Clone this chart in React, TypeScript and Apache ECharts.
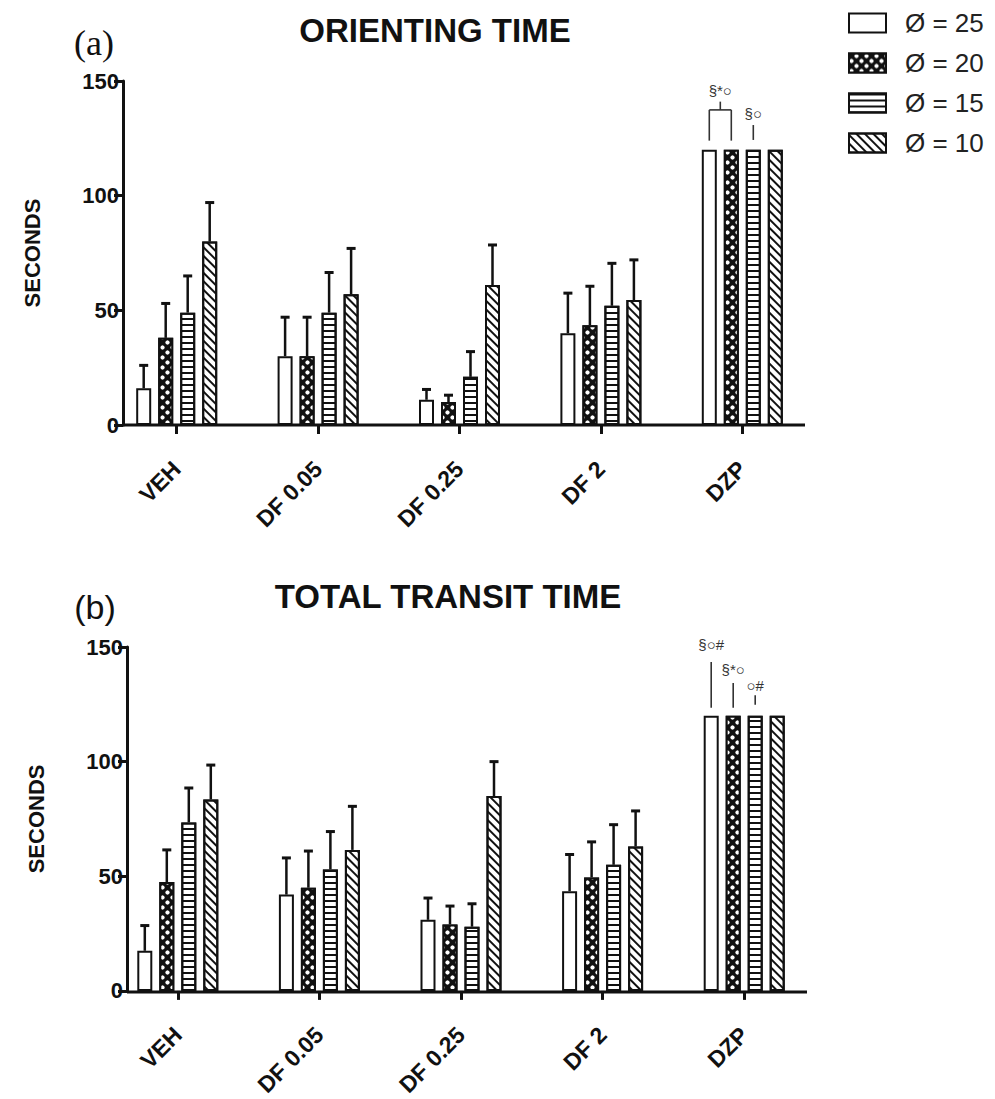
import React, { useEffect, useRef } from 'react';
import * as echarts from 'echarts';

// ---------- data ----------
const categories = ['VEH', 'DF 0.05', 'DF 0.25', 'DF 2', 'DZP'];
const seriesNames = ['Ø = 25', 'Ø = 20', 'Ø = 15', 'Ø = 10'];
const yTicks = [0, 50, 100, 150];

// (a) ORIENTING TIME  (mean, SEM) per diameter
const orientMean25 = [16, 30, 11, 40, 120];
const orientMean20 = [38, 30, 10, 43.5, 120];
const orientMean15 = [49, 49, 21, 52, 120];
const orientMean10 = [80, 57, 61, 54.5, 120];
const orientErr25 = [10, 17, 4.5, 17.5, 0];
const orientErr20 = [15, 17, 3, 17, 0];
const orientErr15 = [16, 17.5, 11, 18.5, 0];
const orientErr10 = [17, 20, 17.5, 17.5, 0];

// (b) TOTAL TRANSIT TIME
const transitMean25 = [17.5, 42, 31, 43.5, 120];
const transitMean20 = [47.5, 45, 29, 49.5, 120];
const transitMean15 = [73.5, 53, 28, 55, 120];
const transitMean10 = [83.5, 61.5, 85, 63, 120];
const transitErr25 = [11, 16, 9.5, 16, 0];
const transitErr20 = [14, 16, 8, 15.5, 0];
const transitErr15 = [15, 16.5, 10, 17.5, 0];
const transitErr10 = [15, 19, 15, 15.5, 0];

// significance annotations over DZP (values in seconds)
const annotCategory = 4;
const orientAnnots = [
  { text: '§*○', series: [0, 1], from: 124, to: 137.4, stem: 141, textAt: 146 },
  { text: '§○', series: [2], from: 124.3, to: 130.8, stem: 0, textAt: 136 },
];
const transitAnnots = [
  { text: '§○#', series: [0], from: 123.5, to: 143.5, stem: 0, textAt: 150.9 },
  { text: '§*○', series: [1], from: 123.5, to: 134.3, stem: 0, textAt: 140.4 },
  { text: '○#', series: [2], from: 124.8, to: 129, stem: 0, textAt: 133 },
];

// ---------- styling ----------
const FONT = 'Liberation Sans, Arial, Helvetica, sans-serif';
const INK = '#111';
const BAR_W = 15;
const PITCH = 22;

const decals: any[] = [
  null,
  {
    symbol: 'circle',
    symbolSize: 0.85,
    color: '#fff',
    dashArrayX: [[5, 5], [0, 5, 5, 0]],
    dashArrayY: [5, 0],
    rotation: 0,
  },
  {
    symbol: 'rect',
    symbolSize: 1,
    color: INK,
    dashArrayX: [1, 0],
    dashArrayY: [1.6, 4],
    rotation: 0,
  },
  {
    symbol: 'rect',
    symbolSize: 1,
    color: INK,
    dashArrayX: [1, 0],
    dashArrayY: [2, 3.2],
    rotation: Math.PI / 4,
  },
];
const fills = ['#fff', INK, '#fff', '#fff'];

function barSeries(means: number[][], gridIdx: number) {
  return means.map((m, k) => ({
    type: 'bar',
    name: seriesNames[k],
    xAxisIndex: gridIdx,
    yAxisIndex: gridIdx,
    data: m,
    barWidth: BAR_W,
    barGap: ((PITCH - BAR_W) / BAR_W) * 100 + '%',
    itemStyle: {
      color: fills[k],
      borderColor: INK,
      borderWidth: 2,
      ...(decals[k] ? { decal: decals[k] } : {}),
    },
    z: 2,
  }));
}

function errorSeries(means: number[][], errs: number[][], gridIdx: number) {
  const data: number[][] = [];
  means.forEach((m, k) => {
    m.forEach((v, c) => {
      if (errs[k][c] > 0) data.push([c, v, errs[k][c], k]);
    });
  });
  return {
    type: 'custom',
    xAxisIndex: gridIdx,
    yAxisIndex: gridIdx,
    data,
    z: 5,
    silent: true,
    renderItem: (_p: any, api: any) => {
      const c = api.value(0);
      const v = api.value(1);
      const e = api.value(2);
      const k = api.value(3);
      const p0 = api.coord([c, v]);
      const p1 = api.coord([c, v + e]);
      const x = p0[0] + (k - 1.5) * PITCH;
      return {
        type: 'group',
        children: [
          { type: 'line', shape: { x1: x, y1: p0[1], x2: x, y2: p1[1] }, style: { stroke: INK, lineWidth: 2.5 } },
          { type: 'line', shape: { x1: x - 4.5, y1: p1[1], x2: x + 4.5, y2: p1[1] }, style: { stroke: INK, lineWidth: 3 } },
        ],
      };
    },
  };
}

function annotSeries(annots: any[], gridIdx: number) {
  return {
    type: 'custom',
    xAxisIndex: gridIdx,
    yAxisIndex: gridIdx,
    data: [[annotCategory, 0]],
    z: 6,
    clip: false,
    silent: true,
    renderItem: (_p: any, api: any) => {
      const cx = api.coord([annotCategory, 0])[0];
      const y = (v: number) => api.coord([annotCategory, v])[1];
      const children: any[] = [];
      annots.forEach((a) => {
        const xs = a.series.map((k: number) => cx + (k - 1.5) * PITCH);
        xs.forEach((x: number) => {
          children.push({ type: 'line', shape: { x1: x, y1: y(a.from), x2: x, y2: y(a.to) }, style: { stroke: '#333', lineWidth: 1.6 } });
        });
        const mid = (xs[0] + xs[xs.length - 1]) / 2;
        if (xs.length > 1) {
          children.push({ type: 'line', shape: { x1: xs[0], y1: y(a.to), x2: xs[xs.length - 1], y2: y(a.to) }, style: { stroke: '#333', lineWidth: 1.6 } });
          children.push({ type: 'line', shape: { x1: mid, y1: y(a.to), x2: mid, y2: y(a.stem) }, style: { stroke: '#333', lineWidth: 1.6 } });
        }
        children.push({
          type: 'text',
          x: mid,
          y: y(a.textAt),
          style: { text: a.text, fill: '#333', font: `15px ${FONT}`, align: 'center', verticalAlign: 'middle' },
        });
      });
      return { type: 'group', children };
    },
  };
}

function axes(gridIdx: number, yOffset: number) {
  return {
    x: {
      type: 'category',
      gridIndex: gridIdx,
      data: categories,
      axisLine: { show: false },
      axisTick: { show: true, alignWithLabel: true, length: 9, lineStyle: { color: INK, width: 3 } },
      axisLabel: { interval: 0, rotate: 45, margin: 40, color: INK, fontSize: 23, fontWeight: 'bold', fontFamily: FONT },
      splitLine: { show: false },
    },
    y: {
      type: 'value',
      gridIndex: gridIdx,
      min: yTicks[0],
      max: yTicks[yTicks.length - 1],
      interval: yTicks[1] - yTicks[0],
      offset: yOffset,
      axisLine: { show: true, lineStyle: { color: INK, width: 3 } },
      axisTick: { show: true, length: 9, lineStyle: { color: INK, width: 3 } },
      axisLabel: { color: INK, fontSize: 22, fontWeight: 'bold', fontFamily: FONT, margin: 4 },
      splitLine: { show: false },
      name: 'SECONDS',
      nameLocation: 'middle',
      nameGap: 80,
      nameTextStyle: { color: INK, fontSize: 22, fontWeight: 'bold', fontFamily: FONT },
    },
  };
}

export default function App() {
  const ref = useRef<HTMLDivElement>(null);
  useEffect(() => {
    if (!ref.current) return;
    const chart = echarts.init(ref.current, undefined, { renderer: 'svg' });
    const aMeans = [orientMean25, orientMean20, orientMean15, orientMean10];
    const aErrs = [orientErr25, orientErr20, orientErr15, orientErr10];
    const bMeans = [transitMean25, transitMean20, transitMean15, transitMean10];
    const bErrs = [transitErr25, transitErr20, transitErr15, transitErr10];
    const axA = axes(0, -17);
    const axB = axes(1, -20);
    const gridA = { left: 106, top: 81, width: 707, height: 344 };
    const gridB = { left: 107, top: 647, width: 708, height: 345 };
    chart.setOption({
      animation: false,
      backgroundColor: '#fff',
      grid: [gridA, gridB],
      xAxis: [axA.x, axB.x],
      yAxis: [axA.y, axB.y],
      legend: {
        orient: 'vertical',
        left: 843,
        top: 4,
        itemWidth: 37,
        itemHeight: 19,
        itemGap: 12,
        icon: 'rect',
        selectedMode: false,
        data: seriesNames,
        itemStyle: { borderColor: INK, borderWidth: 2 },
        textStyle: { fontSize: 26, fontFamily: FONT, color: '#222', lineHeight: 28, padding: [0, 0, 0, 14] },
      },
      graphic: [
        { type: 'line', shape: { x1: gridA.left + 17, y1: gridA.top + gridA.height, x2: 805, y2: gridA.top + gridA.height }, style: { stroke: INK, lineWidth: 3 } },
        { type: 'line', shape: { x1: gridB.left + 20, y1: gridB.top + gridB.height, x2: 807, y2: gridB.top + gridB.height }, style: { stroke: INK, lineWidth: 3 } },
        { type: 'text', x: 435, y: 30, style: { text: 'ORIENTING TIME', font: `bold 33px ${FONT}`, fill: INK, align: 'center', verticalAlign: 'middle' } },
        { type: 'text', x: 448, y: 596, style: { text: 'TOTAL TRANSIT TIME', font: `bold 33px ${FONT}`, fill: INK, align: 'center', verticalAlign: 'middle' } },
        { type: 'text', x: 94, y: 43, style: { text: '(a)', font: `36px Liberation Serif, Times New Roman, serif`, fill: INK, align: 'center', verticalAlign: 'middle' } },
        { type: 'text', x: 95, y: 607, style: { text: '(b)', font: `34px ${FONT}`, fill: INK, align: 'center', verticalAlign: 'middle' } },
      ],
      series: [
        ...barSeries(aMeans, 0),
        ...barSeries(bMeans, 1),
        errorSeries(aMeans, aErrs, 0),
        errorSeries(bMeans, bErrs, 1),
        annotSeries(orientAnnots, 0),
        annotSeries(transitAnnots, 1),
      ],
    });
    return () => chart.dispose();
  }, []);
  return <div ref={ref} style={{ position: 'absolute', left: 0, top: 0, width: 995, height: 1099 }} />;
}
